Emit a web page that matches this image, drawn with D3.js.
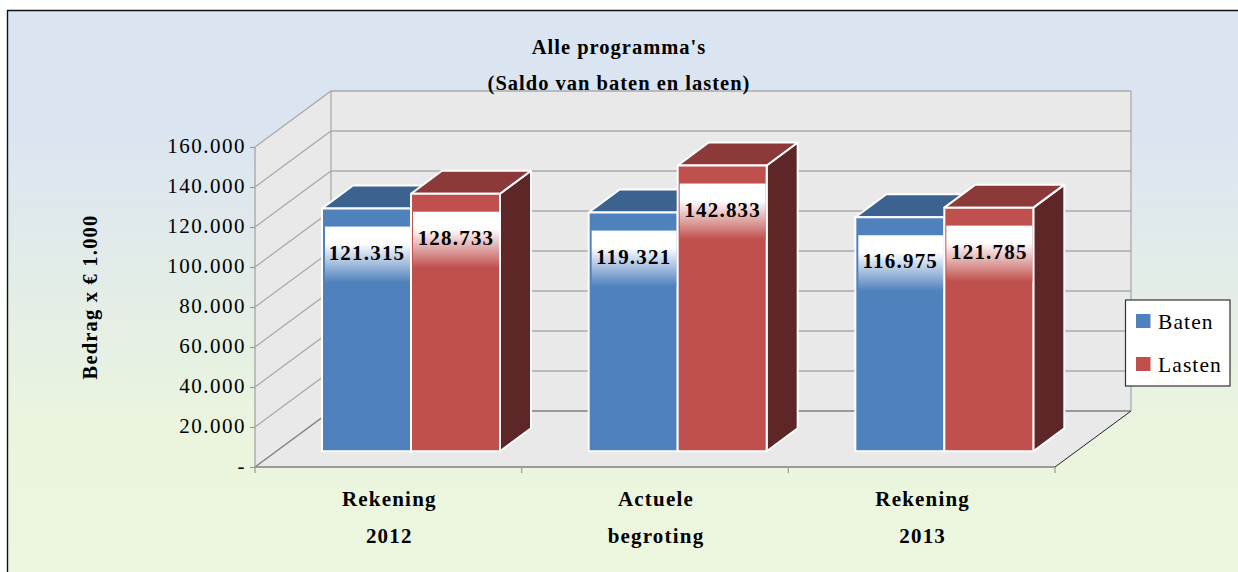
<!DOCTYPE html>
<html><head><meta charset="utf-8">
<script src="https://cdn.jsdelivr.net/npm/d3@7"></script>
<style>
html,body{margin:0;padding:0;background:#fff;}
svg{display:block;}
text{font-family:"Liberation Serif",serif;fill:#000;}
.b{font-weight:bold;}
</style></head><body>
<script>
const categories=[["Rekening","2012"],["Actuele","begroting"],["Rekening","2013"]];
const seriesNames=["Baten","Lasten"];
const baten=[121315,119321,116975];
const lasten=[128733,142833,121785];
const tickValues=[0,20000,40000,60000,80000,100000,120000,140000,160000];
const titleLines=["Alle programma's","(Saldo van baten en lasten)"];
const yLabel="Bedrag x € 1.000";
const colors={Baten:{front:"#4f81bd",top:"#3c6290",side:"#2f4d72"},Lasten:{front:"#c0504d",top:"#8c3a39",side:"#5e2626"}};

const W=1238,H=572;
const fmt=v=>v===0?"-":d3.format(",")(v).replace(/,/g,".");
const svg=d3.select("body").append("svg").attr("width",W).attr("height",H);
const defs=svg.append("defs");
const bg=defs.append("linearGradient").attr("id","bg").attr("x1",0).attr("y1",0).attr("x2",0).attr("y2",1);
bg.append("stop").attr("offset","0%").attr("stop-color","#dbe5f1");
bg.append("stop").attr("offset","22%").attr("stop-color","#dbe5f1");
bg.append("stop").attr("offset","75%").attr("stop-color","#ebf5dd");
bg.append("stop").attr("offset","100%").attr("stop-color","#edf7e0");
seriesNames.forEach(n=>{
  const g=defs.append("linearGradient").attr("id","lab"+n).attr("x1",0).attr("y1",0).attr("x2",0).attr("y2",1);
  g.append("stop").attr("offset","0%").attr("stop-color","#fff");
  g.append("stop").attr("offset","30%").attr("stop-color","#fff");
  g.append("stop").attr("offset","100%").attr("stop-color",colors[n].front);
});

svg.append("rect").attr("x",7).attr("y",10).attr("width",W).attr("height",H).attr("fill","url(#bg)");
svg.append("path").attr("d",`M7.5,${H} V10.5 H${W}`).attr("fill","none").attr("stroke","#111").attr("stroke-width",1.4);

// plot geometry
const x0=255,x1=1055,yB=467,yT=147,dx=76,dy=-56;
const y=d3.scaleLinear().domain([0,160000]).range([yB,yT]);
const x=d3.scaleBand().domain(d3.range(categories.length)).range([x0,x1]);
const line=d3.line();

// walls and floor
svg.append("path").attr("d",line([[x0,yB],[x0,yT],[x0+dx,yT+dy],[x1+dx,yT+dy],[x1+dx,yB+dy],[x1,yB],[x0,yB]])+"Z").attr("fill","#e9e9e9");
const grid=svg.append("g").attr("fill","none");
grid.selectAll("path").data(tickValues).join("path")
 .attr("d",v=>line([[x0,y(v)],[x0+dx,y(v)+dy],[x1+dx,y(v)+dy]]))
 .attr("stroke",v=>v===0?"#7f7f7f":"#ababab").attr("stroke-width",v=>v===0?1.4:1.3);
svg.append("path").attr("d",line([[x0+dx,yT+dy],[x0+dx,yB+dy]])).attr("stroke","#a6a6a6").attr("stroke-width",1.2);
svg.append("path").attr("d",line([[x1+dx,yT+dy],[x1+dx,yB+dy]])).attr("stroke","#a6a6a6").attr("stroke-width",1.2);
svg.append("path").attr("d",line([[x0,yB],[x1,yB]])).attr("stroke","#7f7f7f").attr("stroke-width",1.5);
svg.append("path").attr("d",line([[x1,yB],[x1+dx,yB+dy]])).attr("stroke","#222").attr("stroke-width",1);
svg.append("path").attr("d",line([[x0,yB],[x0,yT]])).attr("stroke","#a6a6a6").attr("stroke-width",1.3);

// axis ticks
const yAxis=d3.axisLeft(y).tickValues(tickValues).tickFormat(fmt).tickSize(5).tickPadding(4);
const ya=svg.append("g").attr("transform",`translate(${x0},0)`).call(yAxis);
ya.select(".domain").remove();
ya.selectAll("line").attr("stroke","#999").attr("stroke-width",1.2);
ya.selectAll("text").attr("font-size",21).attr("letter-spacing",1.5).attr("fill","#111").attr("font-family","Liberation Serif").attr("dy","0.28em");
const xTicks=[0,1,2].map(i=>x(i)).concat([x1]);
svg.append("g").selectAll("line").data(xTicks).join("line")
 .attr("x1",d=>d).attr("x2",d=>d).attr("y1",yB).attr("y2",yB+6).attr("stroke","#999").attr("stroke-width",1.2);

// bars
const barW=89,inset=67,floorDrop=15.8,bdx=31,bdy=-23;
function drawBar(i,k,v,name){
  const c=colors[name];
  const L=x(i)+inset+k*barW,R=L+barW;
  const base=yB-floorDrop, top=base-(yB-y(v));
  const g=svg.append("g").attr("stroke","#fff").attr("stroke-width",2).attr("stroke-linejoin","round");
  g.append("path").attr("d",line([[R,top],[R+bdx,top+bdy],[R+bdx,base+bdy],[R,base]])+"Z").attr("fill",c.side);
  g.append("path").attr("d",line([[L,top],[L+bdx,top+bdy],[R+bdx,top+bdy],[R,top]])+"Z").attr("fill",c.top);
  g.append("rect").attr("x",L).attr("y",top).attr("width",barW).attr("height",base-top).attr("fill",c.front);
  const il=k===0?3:2;
  svg.append("rect").attr("x",L+il).attr("y",top+18).attr("width",barW-il-1).attr("height",56).attr("fill",`url(#lab${name})`);
  return {L,top};
}
const labels=[];
categories.forEach((c,i)=>{
  [[baten,"Baten"],[lasten,"Lasten"]].forEach(([arr,n],k)=>{
    const b=drawBar(i,k,arr[i],n);
    labels.push({x:b.L+barW/2+0.5,y:b.top+44,t:fmt(arr[i])});
  });
});
svg.append("g").selectAll("text").data(labels).join("text").attr("class","b")
 .attr("x",d=>d.x).attr("y",d=>d.y+7).attr("text-anchor","middle").attr("font-size",21).attr("letter-spacing",1.2).text(d=>d.t);

// category labels
const cg=svg.append("g").attr("class","b").attr("text-anchor","middle").attr("font-size",21).attr("letter-spacing",1.2);
categories.forEach((c,i)=>{
  c.forEach((t,j)=>cg.append("text").attr("x",x(i)+x.bandwidth()/2+1).attr("y",506+j*37).text(t));
});

// titles
titleLines.forEach((t,j)=>svg.append("text").attr("class","b").attr("x",619).attr("y",[54,90][j]).attr("text-anchor","middle").attr("font-size",20.5).attr("letter-spacing",1).text(t));
svg.append("text").attr("class","b").attr("transform","translate(97,297) rotate(-90)").attr("text-anchor","middle").attr("font-size",20.5).attr("letter-spacing",1.2).text(yLabel);

// legend
svg.append("rect").attr("x",1125.5).attr("y",300).attr("width",104.5).attr("height",86).attr("fill","#fff").attr("stroke","#333").attr("stroke-width",1.2);
const lg=svg.append("g").selectAll("g").data(seriesNames).join("g").attr("transform",(d,i)=>`translate(1136,${314+i*43})`);
lg.append("rect").attr("width",14.5).attr("height",14).attr("fill",d=>colors[d].front);
lg.append("text").attr("x",22).attr("y",15).attr("font-size",21.5).attr("letter-spacing",1.1).attr("fill","#111").text(d=>d);
</script>
</body></html>
